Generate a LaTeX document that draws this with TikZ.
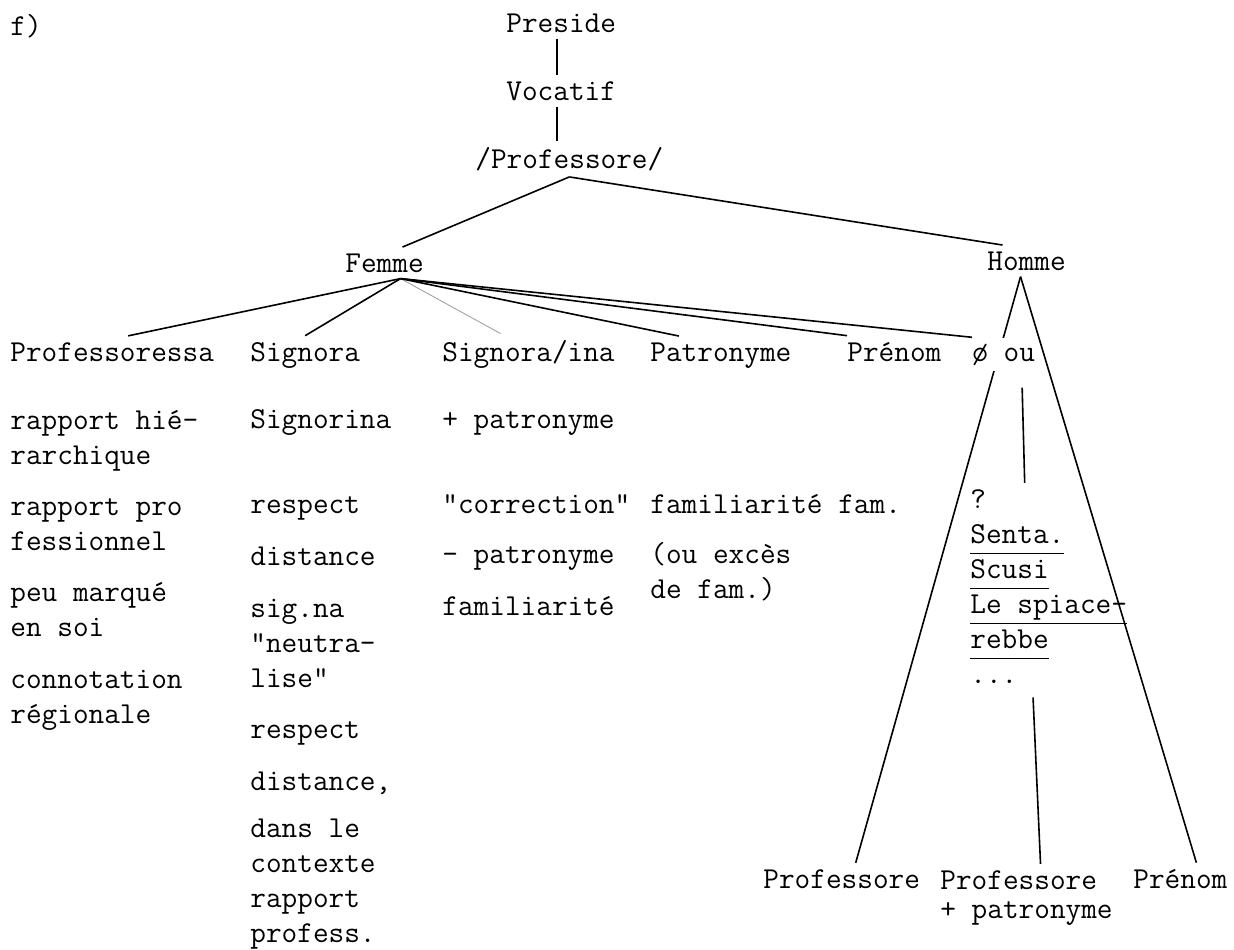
\documentclass[tikz,border=0pt]{standalone}
\usepackage{fontspec}
\newcommand{\tws}{\ttfamily\fontsize{15.2}{17.5}\selectfont}
\newcommand{\ul}[1]{\underline{#1\rule[-4pt]{0pt}{4pt}}}
\begin{document}
\begin{tikzpicture}[x=0.5pt,y=-0.5pt,
  word/.style={font=\tws, anchor=base west, inner xsep=0pt, inner ysep=3pt},
  para/.style={word, align=left},
  branch/.style={line width=0.8pt}]
\useasboundingbox (0,0) rectangle (1234,949) ;

\node[word] (lettre) at (10,35) {f)} ;
\node[word] (preside) at (506,32) {Preside} ;
\node[word] (vocatif) at (506,100) {Vocatif} ;
\node[word] (profslash) at (475,168) {/Professore/} ;
\node[word] (femme) at (345,272) {Femme} ;
\node[word] (homme) at (987,270) {Homme} ;

\draw[branch] ([xshift=-2pt]preside.south) -- ([xshift=-2pt]vocatif.north) ;
\draw[branch] ([xshift=-2pt]vocatif.south) -- ([xshift=-2pt]vocatif.south |- profslash.north) ;
\draw[branch] (profslash.south) -- ([xshift=9pt]femme.north) ;
\draw[branch] (profslash.south) -- ([xshift=-12pt]homme.north) ;

% Femme
\node[word] (profa) at (10,361) {Professoressa} ;
\node[word] (signora) at (250,361) {Signora} ;
\node[word] (signina) at (442,361) {Signora/ina} ;
\node[word] (patro) at (650,361) {Patronyme} ;
\node[word] (prenomf) at (847,361) {Prénom} ;

% (para nodes sit on their last line)
\begin{scope}[shift={(10,0)}]
\node[para] (hier) at (0,464) {rapport hié-\\rarchique} ;
\node[para] (profl) at (0,550) {rapport pro\\fessionnel} ;
\node[para] (peu) at (0,636) {peu marqué\\en soi} ;
\node[para] (regio) at (0,723) {connotation\\régionale} ;
\end{scope}

\begin{scope}[shift={(250,0)}]
\node[para] (signorina) at (0,428) {Signorina} ;
\node[para] (resp) at (0,513) {respect} ;
\node[para] (dist) at (0,565) {distance} ;
\node[para] (signa) at (0,687) {sig.na\\"neutra-\\lise"} ;
\node[para] (respb) at (0,738) {respect} ;
\node[para] (distb) at (0,790) {distance,} ;
\node[para] (contexte) at (0,942) {dans le\\contexte\\rapport\\profess.} ;
\end{scope}

\begin{scope}[shift={(442,0)}]
\node[para] (pluspatr) at (0,428) {+ patronyme} ;
\node[para] (correc) at (0,513) {"correction"} ;
\node[para] (moinspatr) at (0,563) {- patronyme} ;
\node[para] (famil) at (0,615) {familiarité} ;
\end{scope}

\begin{scope}[shift={(650,0)}]
\node[para] (famfam) at (0,513) {familiarité fam.} ;
\node[para] (exces) at (0,598) {(ou excès\\de fam.)} ;
\end{scope}

\coordinate (fan) at ([xshift=8pt]femme.south) ;
\draw[branch] (fan) -- ([xshift=8pt]profa.north) ;
\draw[branch] (fan) -- (signora.north) ;
\draw[branch, black!40, thin] (fan) -- ([xshift=-14pt]signina.north) ;
\draw[branch] (fan) -- ([xshift=-21pt]patro.north) ;
\draw[branch] (fan) -- (prenomf.north west) ;

% Homme
\node[para] (qblock) at (970,683) {?\\\ul{Senta.}\\\ul{Scusi}\\\ul{Le spiace-}\\\ul{rebbe}\\...} ;
\node[word] (profh) at (763,888) {Professore} ;
\node[para] (profpatr) at (940,918) {Professore\\[-3pt]+ patronyme} ;
\node[word] (prenomh) at (1133,888) {Prénom} ;

\draw[branch] ([xshift=-3pt]homme.south) -- ([xshift=7pt]profh.north) ;
\node[word, fill=white] (ou) at (972,361) {ø ou} ;
\draw[branch] (fan) -- (ou.north west) ;
\draw[branch] ([xshift=-3pt]homme.south) -- ([xshift=8pt]prenomh.north) ;
\draw[branch, shorten <=8pt] ([xshift=9pt]ou.south) -- ([xshift=-12pt]qblock.north) ;
\draw[branch, shorten <=4pt] ([xshift=-8pt]qblock.south) -- ([xshift=7pt]profpatr.north) ;
\end{tikzpicture}
\end{document}
